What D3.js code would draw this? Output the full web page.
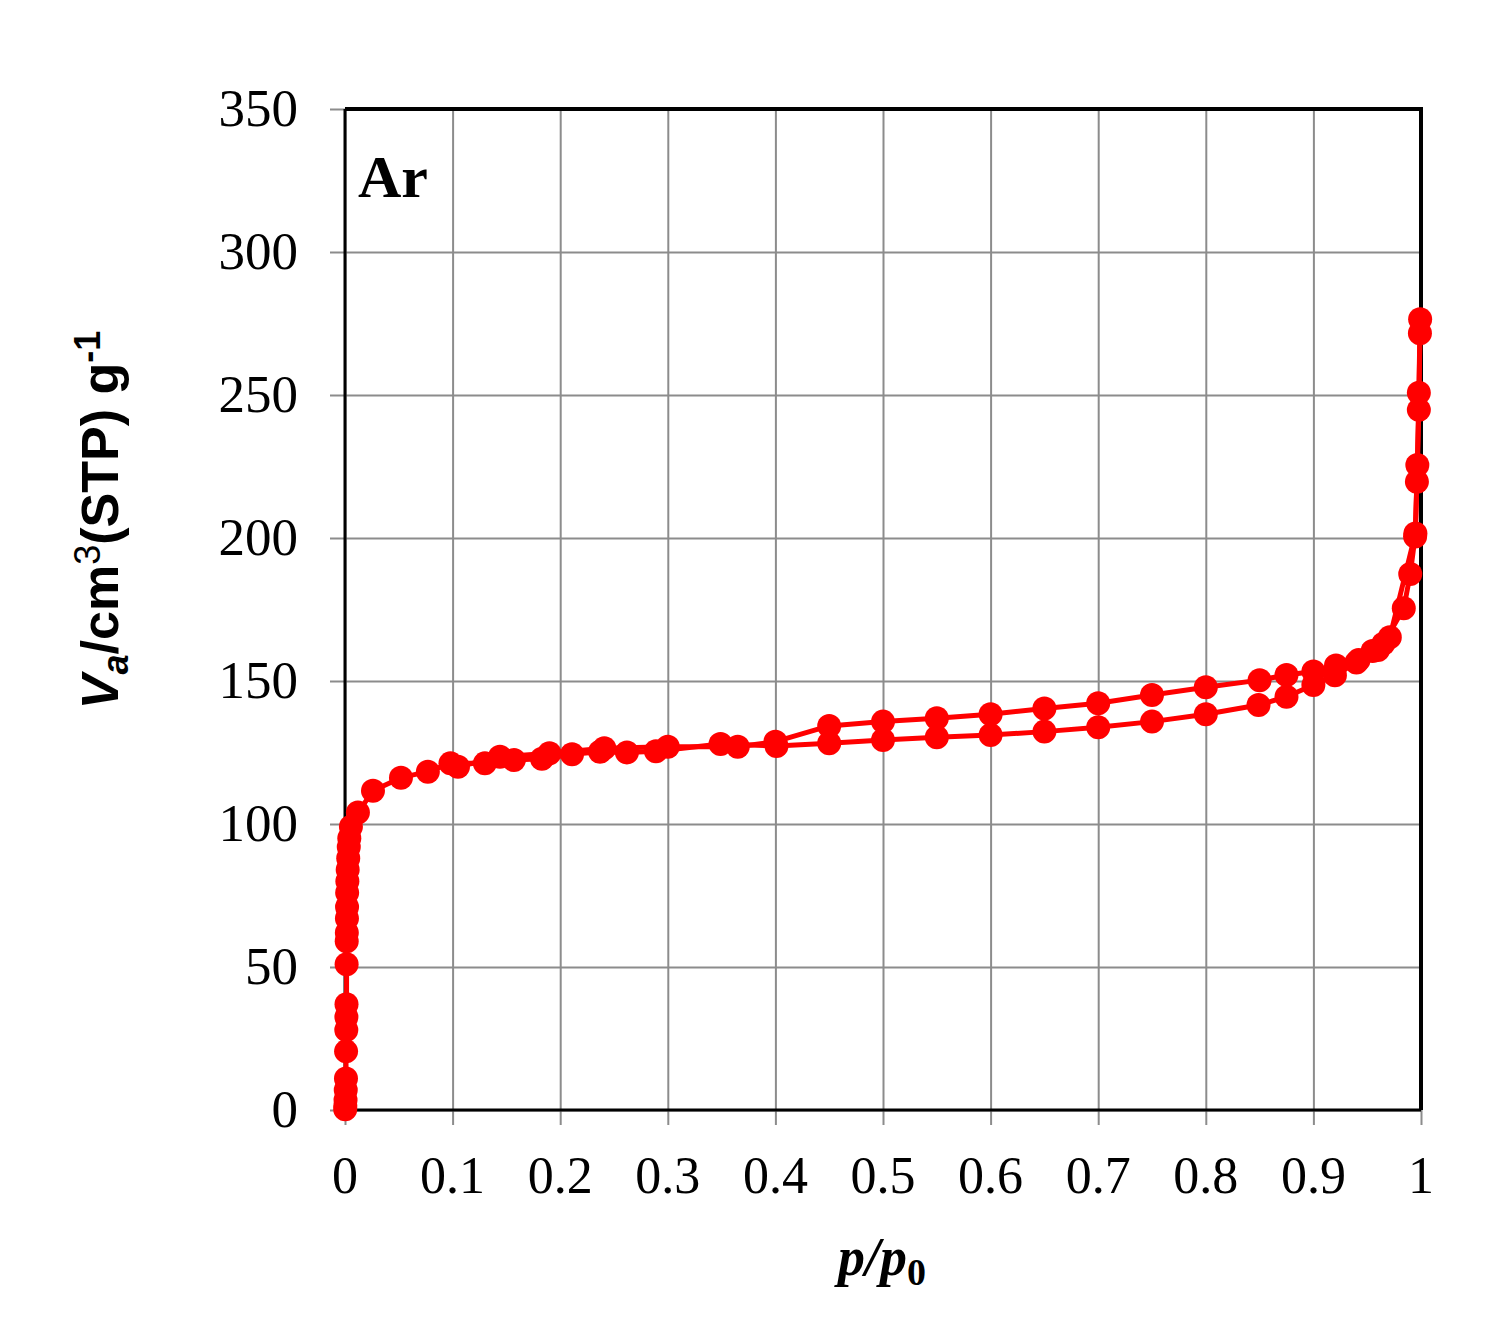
<!DOCTYPE html>
<html>
<head>
<meta charset="utf-8">
<script src="https://cdn.jsdelivr.net/npm/d3@7"></script>
<style>
    body { margin: 0; background: #fff; }
</style>
</head>
<body>
<div id="chart"></div>
<script>
// adsorption branch (p/p0, V)
var adsX = [0.0002, 0.0003, 0.0005, 0.0007, 0.0009, 0.001, 0.0012, 0.0013, 0.0014, 0.0015,
    0.0016, 0.0017, 0.0018, 0.0019, 0.002, 0.0022, 0.0025, 0.003, 0.0035, 0.004, 0.0055,
    0.012, 0.026, 0.052, 0.077, 0.098, 0.13, 0.157, 0.183, 0.211, 0.237, 0.262, 0.289,
    0.349, 0.401, 0.45, 0.5, 0.55, 0.6, 0.65, 0.7, 0.75, 0.8, 0.849, 0.875, 0.9, 0.92,
    0.94, 0.955, 0.965, 0.984, 0.99, 0.9945, 0.9962, 0.998, 0.999];
var adsY = [0.3, 1.5, 3.5, 7, 11, 20.5, 28, 32.5, 37, 51,
    59, 62, 67, 71, 76, 80, 84, 88, 92, 95, 99,
    104, 111.6, 116.2, 118.3, 121.2, 121.2, 122.4, 122.8, 124.4, 125.3, 125, 125.4,
    128, 127.3, 128.2, 129.4, 130.3, 131.1, 132.3, 133.8, 135.8, 138.4, 141.6, 144.5, 148.6, 152,
    156.5, 160.5, 163, 175.4, 187.4, 200.5, 219.7, 244.8, 271.6];

// desorption branch (p/p0, V)
var desX = [0.9992, 0.998, 0.9966, 0.9948, 0.971, 0.96, 0.942, 0.921, 0.9, 0.875, 0.85,
    0.8, 0.75, 0.7, 0.65, 0.6, 0.55, 0.5, 0.45, 0.4, 0.365, 0.3, 0.241, 0.19, 0.144, 0.105];
var desY = [276.5, 250.8, 225.5, 201.6, 165.3, 160.8, 157.3, 155.4, 153.3, 152.1, 150.3,
    147.8, 145.1, 142.2, 140.4, 138.4, 137, 135.8, 134.3, 128.8, 127, 127, 126.5, 124.7, 123.5, 120];

var xTicks = [0, 0.1, 0.2, 0.3, 0.4, 0.5, 0.6, 0.7, 0.8, 0.9, 1];
var yTicks = [0, 50, 100, 150, 200, 250, 300, 350];

window.onload = () => {

    var width = 1488;
    var height = 1322;
    var margin = { left: 345, right: 67, top: 109, bottom: 212 };
    var red = "#ff0000";
    var gridColor = "#8c8c8c";

    var svg = d3.select("#chart")
        .append("svg")
        .attr("width", width)
        .attr("height", height)
        .style("font-family", "'Liberation Serif', 'Times New Roman', serif");

    var x = d3.scaleLinear()
        .domain([0, 1])
        .range([margin.left, width - margin.right]);

    var y = d3.scaleLinear()
        .domain([0, 350])
        .range([height - margin.bottom, margin.top]);

    // gridlines + outward ticks (left and bottom only)
    svg.append("g")
        .attr("transform", `translate(0,${height - margin.bottom})`)
        .call(d3.axisBottom(x).tickValues(xTicks)
            .tickSize(-(height - margin.top - margin.bottom))
            .tickFormat(""))
        .call(g => g.select(".domain").remove())
        .call(g => g.selectAll("line")
            .attr("y1", 15)
            .attr("stroke", gridColor)
            .attr("stroke-width", 2));

    svg.append("g")
        .attr("transform", `translate(${margin.left},0)`)
        .call(d3.axisLeft(y).tickValues(yTicks)
            .tickSize(-(width - margin.left - margin.right))
            .tickFormat(""))
        .call(g => g.select(".domain").remove())
        .call(g => g.selectAll("line")
            .attr("x1", -15)
            .attr("stroke", gridColor)
            .attr("stroke-width", 2));

    // frame
    svg.append("line")
        .attr("x1", x(0)).attr("x2", x(1) + 2)
        .attr("y1", y(350)).attr("y2", y(350))
        .attr("stroke", "#000").attr("stroke-width", 4);
    svg.append("line")
        .attr("x1", x(1)).attr("x2", x(1))
        .attr("y1", y(350)).attr("y2", y(0))
        .attr("stroke", "#000").attr("stroke-width", 4);
    svg.append("line")
        .attr("x1", x(0)).attr("x2", x(1))
        .attr("y1", y(0)).attr("y2", y(0))
        .attr("stroke", "#000").attr("stroke-width", 3);
    svg.append("line")
        .attr("x1", x(0)).attr("x2", x(0))
        .attr("y1", y(350)).attr("y2", y(0))
        .attr("stroke", "#000").attr("stroke-width", 3);

    // tick labels
    svg.selectAll("text.xtick")
        .data(xTicks)
        .enter()
        .append("text")
        .attr("class", "xtick")
        .attr("x", d => x(d))
        .attr("y", 1193)
        .attr("text-anchor", "middle")
        .attr("font-size", 52)
        .text(d => d);

    svg.selectAll("text.ytick")
        .data(yTicks)
        .enter()
        .append("text")
        .attr("class", "ytick")
        .attr("x", 298)
        .attr("y", d => y(d) + 17)
        .attr("text-anchor", "end")
        .attr("font-size", 53)
        .text(d => d);

    // series
    var ads = adsX.map((d, i) => [d, adsY[i]]);
    var des = desX.map((d, i) => [d, desY[i]]);

    var line = d3.line()
        .x(d => x(d[0]))
        .y(d => y(d[1]));

    [ads, des].forEach((series) => {
        svg.append("path")
            .datum(series)
            .attr("fill", "none")
            .attr("stroke", red)
            .attr("stroke-width", 5)
            .attr("stroke-linejoin", "round")
            .attr("d", line);
    });

    [ads, des].forEach((series) => {
        svg.append("g")
            .selectAll("circle")
            .data(series)
            .enter()
            .append("circle")
            .attr("cx", d => x(d[0]))
            .attr("cy", d => y(d[1]))
            .attr("r", 12)
            .attr("fill", red);
    });

    // panel label
    svg.append("text")
        .attr("x", 358)
        .attr("y", 197)
        .attr("font-size", 60)
        .attr("font-weight", "bold")
        .text("Ar");

    // x title
    var xt = svg.append("text")
        .attr("x", 882)
        .attr("y", 1275)
        .attr("text-anchor", "middle")
        .attr("font-size", 54)
        .attr("font-weight", "bold")
        .attr("font-style", "italic");
    xt.append("tspan").text("p/p");
    xt.append("tspan").attr("dy", 10).attr("font-size", 38).attr("font-style", "normal").text("0");

    // y title
    var yt = svg.append("text")
        .attr("transform", "translate(118,520) rotate(-90)")
        .attr("text-anchor", "middle")
        .attr("font-family", "'Liberation Sans', Arial, sans-serif")
        .attr("font-size", 52)
        .attr("font-weight", "bold");
    yt.append("tspan").attr("font-style", "italic").text("V");
    yt.append("tspan").attr("font-style", "italic").attr("font-size", 36).attr("dy", 10).text("a");
    yt.append("tspan").attr("dy", -10).text("/cm");
    yt.append("tspan").attr("font-size", 36).attr("font-weight", "normal").attr("dy", -18).text("3");
    yt.append("tspan").attr("dy", 18).text("(STP) g");
    yt.append("tspan").attr("font-size", 36).attr("dy", -18).text("-1");
}
</script>
</body>
</html>
